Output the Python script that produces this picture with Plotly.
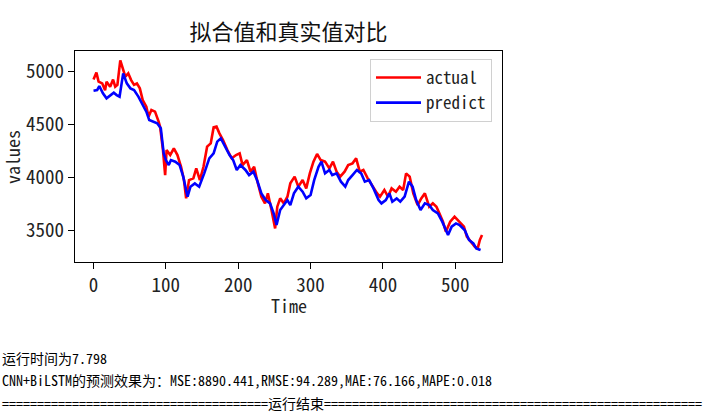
import plotly.graph_objects as go

# 真实值 (actual)
actual_t = [0, 4, 7, 12, 16, 18, 23, 27, 30, 33, 37, 40, 44, 48, 52, 56, 60, 64, 68, 73,
            76, 80, 85, 90, 92, 96, 99, 101, 106, 111, 116, 121, 125, 128, 132, 138, 142, 147, 152, 157,
            162, 166, 170, 174, 179, 185, 191, 197, 202, 206, 212, 217, 222, 226, 232, 237, 241, 246, 251, 254,
            258, 263, 268, 272, 278, 283, 289, 294, 299, 304, 309, 314, 320, 326, 331, 336, 341, 347, 352, 358,
            363, 368, 373, 379, 386, 392, 396, 402, 407, 412, 418, 423, 428, 432, 437, 442, 448, 453, 458, 464,
            469, 474, 478, 483, 487, 493, 499, 506, 512, 516, 522, 527, 531, 534, 537]
actual_v = [4920, 4985, 4900, 4884, 4820, 4900, 4853, 4920, 4853, 4870, 5100, 5040, 4947, 4978, 4915, 4870, 4884, 4837, 4727, 4665,
            4571, 4633, 4618, 4524, 4477, 4257, 4022, 4257, 4210, 4273, 4210, 4100, 3975, 3803, 3975, 3991, 4085, 3975, 4100, 4289,
            4320, 4470, 4477, 4414, 4351, 4257, 4179, 4210, 4226, 4116, 4163, 4054, 4100, 3975, 3819, 3756, 3850, 3694, 3521, 3725,
            3803, 3756, 3819, 3944, 4007, 3913, 3975, 3897, 4038, 4148, 4220, 4163, 4148, 4085, 4148, 4054, 4007, 4054, 4116, 4132,
            4179, 4054, 4070, 3991, 3913, 3850, 3819, 3882, 3819, 3897, 3866, 3913, 3882, 4038, 4007, 3850, 3740, 3803, 3850, 3725,
            3756, 3725, 3662, 3584, 3490, 3584, 3631, 3584, 3537, 3443, 3396, 3349, 3333, 3412, 3458]

# 拟合值 (predict)
predict_t = [0, 5, 8, 13, 18, 23, 28, 32, 36, 41, 46, 51, 56, 62, 68, 73, 77, 83, 88, 93,
             97, 100, 104, 107, 113, 119, 124, 130, 134, 140, 146, 153, 160, 166, 171, 176, 182, 188, 193, 198,
             203, 210, 215, 221, 226, 232, 238, 244, 249, 253, 258, 263, 268, 272, 277, 283, 289, 294, 300, 305,
             311, 315, 320, 326, 330, 336, 342, 348, 352, 358, 364, 370, 375, 381, 387, 394, 398, 404, 409, 413,
             419, 424, 430, 436, 441, 446, 452, 458, 464, 469, 476, 482, 490, 495, 501, 506, 513, 519, 525, 529,
             535]
predict_v = [4815, 4821, 4859, 4790, 4743, 4774, 4796, 4774, 4759, 4978, 4884, 4837, 4821, 4759, 4680, 4618, 4539, 4524, 4508, 4461,
             4226, 4163, 4116, 4163, 4148, 4116, 4007, 3819, 3913, 3944, 3913, 4038, 4179, 4226, 4336, 4367, 4289, 4210, 4163, 4070,
             4116, 4070, 4022, 4054, 3975, 3850, 3787, 3756, 3662, 3553, 3694, 3740, 3787, 3740, 3850, 3913, 3866, 3803, 3835, 3975,
             4100, 4148, 4038, 4070, 4022, 4038, 3960, 3913, 3975, 4022, 4070, 4038, 3960, 3975, 3897, 3787, 3756, 3787, 3850, 3772,
             3803, 3772, 3819, 3960, 3913, 3787, 3694, 3756, 3740, 3694, 3662, 3584, 3458, 3537, 3568, 3553, 3505, 3412, 3380, 3333,
             3318]

x_ticks = [0, 100, 200, 300, 400, 500]
y_ticks = [3500, 4000, 4500, 5000]

console_lines = [
    "运行时间为7.798",
    "CNN+BiLSTM的预测效果为：MSE:8890.441,RMSE:94.289,MAE:76.166,MAPE:0.018",
    "=" * 38 + "运行结束" + "=" * 54,
]

MONO = "Noto Sans Mono CJK SC, Noto Sans CJK SC, monospace"

# plot area in pixels (matches the screenshot)
L, R, T, B = 75, 502, 51, 262
W, H = 715, 415


def px_x(px):
    return (px - L) / (R - L)


def px_y(py):
    return 1 - (py - T) / (B - T)


fig = go.Figure()
fig.add_trace(go.Scatter(x=actual_t, y=actual_v, mode="lines", name="actual",
                         line=dict(color="#ff0000", width=2.6)))
fig.add_trace(go.Scatter(x=predict_t, y=predict_v, mode="lines", name="predict",
                         line=dict(color="#0000ff", width=2.6)))

axis_style = dict(
    showline=True, mirror=True, linecolor="#000", linewidth=1.3,
    ticks="outside", ticklen=6, tickwidth=1.3, tickcolor="#000",
    showgrid=False, zeroline=False, automargin=False,
    tickfont=dict(family=MONO, size=19, color="#222"),
)

fig.update_layout(
    width=W, height=H,
    margin=dict(l=L, r=W - R, t=T, b=H - B, pad=0),
    paper_bgcolor="white", plot_bgcolor="white",
    title=dict(text="拟合值和真实值对比", xref="paper", x=0.5, xanchor="center",
               y=1 - 32 / H, yanchor="middle",
               font=dict(family="Noto Sans CJK SC", size=22, color="#111")),
    xaxis=dict(range=[-25.6, 564.6], tickvals=x_ticks, **axis_style),
    yaxis=dict(range=[3205, 5188], tickvals=y_ticks, **axis_style),
    legend=dict(x=px_x(492), y=px_y(59), xanchor="right", yanchor="top",
                bgcolor="white", bordercolor="#d0d0d0", borderwidth=1, itemwidth=45,
                font=dict(family=MONO, size=17, color="#222"), tracegroupgap=0),
    showlegend=True,
)

# axis titles
fig.add_annotation(text="Time", xref="paper", yref="paper", x=0.5, y=px_y(305),
                   xanchor="center", yanchor="middle", showarrow=False,
                   font=dict(family=MONO, size=18, color="#222"))
fig.add_annotation(text="values", xref="paper", yref="paper", x=px_x(12), y=px_y(157),
                   xanchor="center", yanchor="middle", showarrow=False, textangle=-90,
                   font=dict(family=MONO, size=18, color="#222"))

for text, py in zip(console_lines, [358, 380, 403]):
    fig.add_annotation(text=text, xref="paper", yref="paper", x=px_x(0), y=px_y(py),
                       xanchor="left", yanchor="middle", showarrow=False,
                       font=dict(family=MONO, size=14, color="#000"))

fig.write_html("out.html", config={"displayModeBar": False},
               post_script="document.body.style.margin='0';")
